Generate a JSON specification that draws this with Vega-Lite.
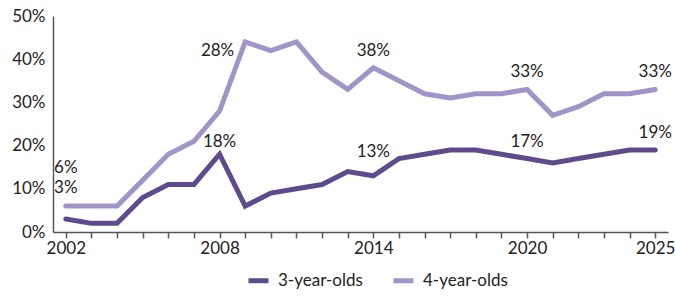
{
  "$schema": "https://vega.github.io/schema/vega-lite/v6.json",
  "autosize": "none",
  "width": 615,
  "height": 216,
  "padding": {"left": 53, "top": 16, "right": 7, "bottom": 67},
  "config": {
    "view": {"stroke": null},
    "font": "Lato",
    "axis": {"labelFont": "Lato", "labelFontSize": 17, "labelColor": "#222222", "domainColor": "#555555", "domainWidth": 1.5, "tickColor": "#555555", "grid": false, "title": null},
    "legend": {"labelFont": "Lato", "labelFontSize": 17, "labelColor": "#222222"}
  },
  "data": {"values": [
    {"year": 2002, "series": "3-year-olds", "value": 0.03},
    {"year": 2003, "series": "3-year-olds", "value": 0.02},
    {"year": 2004, "series": "3-year-olds", "value": 0.02},
    {"year": 2005, "series": "3-year-olds", "value": 0.08},
    {"year": 2006, "series": "3-year-olds", "value": 0.11},
    {"year": 2007, "series": "3-year-olds", "value": 0.11},
    {"year": 2008, "series": "3-year-olds", "value": 0.18},
    {"year": 2009, "series": "3-year-olds", "value": 0.06},
    {"year": 2010, "series": "3-year-olds", "value": 0.09},
    {"year": 2011, "series": "3-year-olds", "value": 0.10},
    {"year": 2012, "series": "3-year-olds", "value": 0.11},
    {"year": 2013, "series": "3-year-olds", "value": 0.14},
    {"year": 2014, "series": "3-year-olds", "value": 0.13},
    {"year": 2015, "series": "3-year-olds", "value": 0.17},
    {"year": 2016, "series": "3-year-olds", "value": 0.18},
    {"year": 2017, "series": "3-year-olds", "value": 0.19},
    {"year": 2018, "series": "3-year-olds", "value": 0.19},
    {"year": 2019, "series": "3-year-olds", "value": 0.18},
    {"year": 2020, "series": "3-year-olds", "value": 0.17},
    {"year": 2021, "series": "3-year-olds", "value": 0.16},
    {"year": 2022, "series": "3-year-olds", "value": 0.17},
    {"year": 2023, "series": "3-year-olds", "value": 0.18},
    {"year": 2024, "series": "3-year-olds", "value": 0.19},
    {"year": 2025, "series": "3-year-olds", "value": 0.19},
    {"year": 2002, "series": "4-year-olds", "value": 0.06},
    {"year": 2003, "series": "4-year-olds", "value": 0.06},
    {"year": 2004, "series": "4-year-olds", "value": 0.06},
    {"year": 2005, "series": "4-year-olds", "value": 0.12},
    {"year": 2006, "series": "4-year-olds", "value": 0.18},
    {"year": 2007, "series": "4-year-olds", "value": 0.21},
    {"year": 2008, "series": "4-year-olds", "value": 0.28},
    {"year": 2009, "series": "4-year-olds", "value": 0.44},
    {"year": 2010, "series": "4-year-olds", "value": 0.42},
    {"year": 2011, "series": "4-year-olds", "value": 0.44},
    {"year": 2012, "series": "4-year-olds", "value": 0.37},
    {"year": 2013, "series": "4-year-olds", "value": 0.33},
    {"year": 2014, "series": "4-year-olds", "value": 0.38},
    {"year": 2015, "series": "4-year-olds", "value": 0.35},
    {"year": 2016, "series": "4-year-olds", "value": 0.32},
    {"year": 2017, "series": "4-year-olds", "value": 0.31},
    {"year": 2018, "series": "4-year-olds", "value": 0.32},
    {"year": 2019, "series": "4-year-olds", "value": 0.32},
    {"year": 2020, "series": "4-year-olds", "value": 0.33},
    {"year": 2021, "series": "4-year-olds", "value": 0.27},
    {"year": 2022, "series": "4-year-olds", "value": 0.29},
    {"year": 2023, "series": "4-year-olds", "value": 0.32},
    {"year": 2024, "series": "4-year-olds", "value": 0.32},
    {"year": 2025, "series": "4-year-olds", "value": 0.33}
  ]},
  "encoding": {
    "x": {"field": "year", "type": "quantitative",
      "scale": {"domain": [2001.5, 2025.5], "nice": false, "zero": false},
      "axis": {"values": [2002,2003,2004,2005,2006,2007,2008,2009,2010,2011,2012,2013,2014,2015,2016,2017,2018,2019,2020,2021,2022,2023,2024,2025],
        "labelExpr": "indexof([2002,2008,2014,2020,2025], datum.value) >= 0 ? datum.value + '' : ''",
        "labelOverlap": false, "labelFlush": false, "tickSize": 6, "tickWidth": 1.5, "labelPadding": 2}},
    "y": {"field": "value", "type": "quantitative",
      "scale": {"domain": [0, 0.5], "nice": false},
      "axis": {"values": [0, 0.1, 0.2, 0.3, 0.4, 0.5], "format": ".0%", "ticks": false, "labelPadding": 8}}
  },
  "layer": [
    {
      "mark": {"type": "line", "strokeWidth": 5, "strokeCap": "round"},
      "encoding": {
        "color": {"field": "series", "type": "nominal",
          "scale": {"domain": ["3-year-olds", "4-year-olds"], "range": ["#5e4b8c", "#a094c8"]},
          "legend": {"title": null, "orient": "none", "direction": "horizontal", "legendX": 193, "legendY": 252,
            "symbolType": "stroke", "symbolSize": 400, "symbolStrokeWidth": 5, "columnPadding": 20, "labelOffset": 7}}
      }
    },
    {
      "transform": [{"filter": "indexof([2014,2020,2025], datum.year) >= 0 && !(datum.year == 2014 && datum.series == '3-year-olds')"}],
      "mark": {"type": "text", "fontSize": 17, "dy": -17, "color": "#222222", "font": "Lato"},
      "encoding": {"text": {"field": "value", "type": "quantitative", "format": ".0%"}}
    },
    {
      "transform": [{"filter": "datum.year == 2002 && datum.series == '4-year-olds'"}],
      "mark": {"type": "text", "fontSize": 17, "dy": -38, "color": "#222222", "font": "Lato"},
      "encoding": {"text": {"field": "value", "type": "quantitative", "format": ".0%"}}
    },
    {
      "transform": [{"filter": "datum.year == 2002 && datum.series == '3-year-olds'"}],
      "mark": {"type": "text", "fontSize": 17, "dy": -31, "color": "#222222", "font": "Lato"},
      "encoding": {"text": {"field": "value", "type": "quantitative", "format": ".0%"}}
    },
    {
      "transform": [{"filter": "datum.year == 2008 && datum.series == '3-year-olds'"}],
      "mark": {"type": "text", "fontSize": 17, "dy": -12, "color": "#222222", "font": "Lato"},
      "encoding": {"text": {"field": "value", "type": "quantitative", "format": ".0%"}}
    },
    {
      "transform": [{"filter": "datum.year == 2008 && datum.series == '4-year-olds'"}],
      "mark": {"type": "text", "fontSize": 17, "dy": -60, "dx": -2, "color": "#222222", "font": "Lato"},
      "encoding": {"text": {"field": "value", "type": "quantitative", "format": ".0%"}}
    },
    {
      "transform": [{"filter": "datum.year == 2014 && datum.series == '3-year-olds'"}],
      "mark": {"type": "text", "fontSize": 17, "dy": -24, "color": "#222222", "font": "Lato"},
      "encoding": {"text": {"field": "value", "type": "quantitative", "format": ".0%"}}
    }
  ]
}
